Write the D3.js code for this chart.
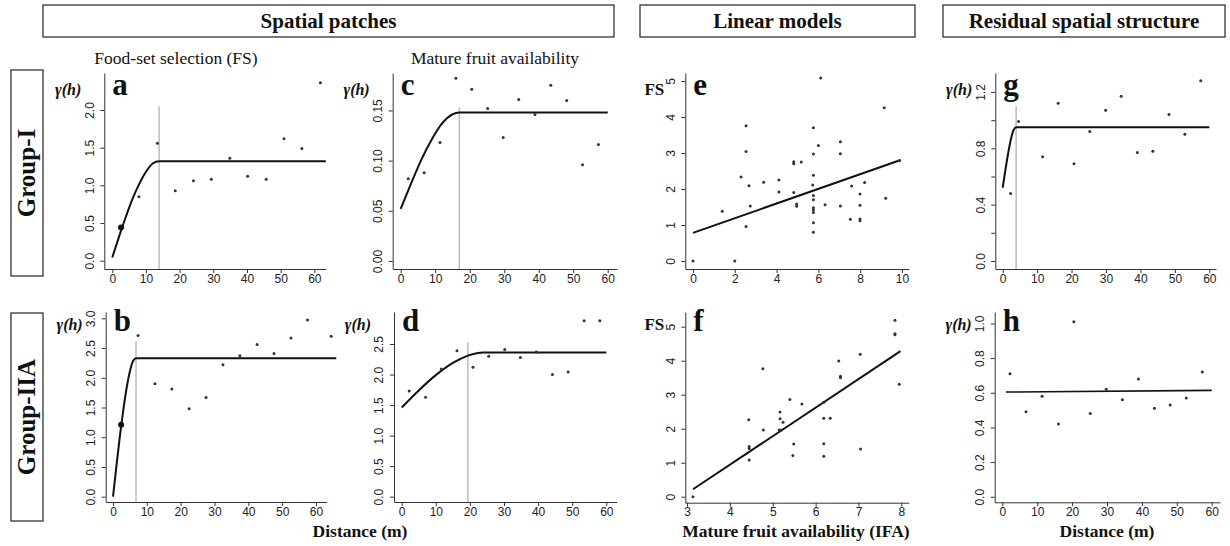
<!DOCTYPE html>
<html>
<head>
<meta charset="UTF-8" />
<title>Variograms and linear models</title>
<script src="https://d3js.org/d3.v7.min.js"></script>
<style>
  body { margin: 0; background: #fff; }
  .tick text { font-family: "Liberation Sans", Arial, sans-serif; font-size: 12px; fill: #222; }
  .axis path, .axis line { stroke: #333; stroke-width: 1; }
  .serif { font-family: "Liberation Serif", "Times New Roman", serif; fill: #111; }
</style>
</head>
<body>
<svg id="chart" width="1230" height="546"></svg>
<script>
// ---- data ----
// panel a : FS variogram, Group-I  [distance, gamma]
var aPoints = [[7.9,0.85],[13.4,1.56],[18.7,0.93],[24.1,1.06],[29.4,1.08],[34.9,1.36],[40.2,1.12],[45.7,1.08],[51.0,1.62],[56.3,1.49],[61.8,2.36]];
var aFirst = [[2.6,0.44]];
var aModel = [[0,0.045],[2,0.32],[4,0.58],[6,0.82],[8,1.02],[10,1.18],[12,1.29],[13.9,1.32],[63.4,1.32]];
var aRange = [13.9, 2.05];

// panel b : FS variogram, Group-IIA
var bPoints = [[7.4,2.71],[12.4,1.90],[17.4,1.81],[22.5,1.48],[27.5,1.67],[32.5,2.22],[37.5,2.37],[42.6,2.56],[47.6,2.41],[52.6,2.67],[57.5,2.97],[64.5,2.70]];
var bFirst = [[2.4,1.21]];
var bModel = [[0,0],[1,0.51],[2,1.0],[3,1.44],[4,1.82],[5,2.11],[6,2.29],[6.8,2.33],[66,2.33]];
var bRange = [6.8, 2.61];

// panel c : mature fruit variogram, Group-I
var cPoints = [[2.2,0.082],[6.8,0.088],[11.4,0.118],[16.0,0.182],[20.6,0.171],[25.2,0.152],[29.7,0.123],[34.2,0.161],[38.9,0.146],[43.5,0.175],[48.1,0.160],[52.7,0.096],[57.3,0.116]];
var cModel = [[0,0.052],[3,0.077],[6,0.101],[9,0.121],[12,0.137],[15,0.146],[17,0.148],[60,0.148]];
var cRange = [17.0, 0.153];

// panel d : mature fruit variogram, Group-IIA
var dPoints = [[2.2,1.73],[7.0,1.63],[11.6,2.09],[16.2,2.39],[20.9,2.12],[25.5,2.30],[30.2,2.41],[34.8,2.28],[39.5,2.37],[44.2,2.00],[48.8,2.04],[53.5,2.88],[58.1,2.88]];
var dModel = [[0,1.46],[5,1.74],[10,1.99],[15,2.19],[19.4,2.31],[22,2.35],[24,2.36],[60,2.36]];
var dRange = [19.4, 2.53];

// panel e : FS ~ IFA, Group-I  [IFA, FS]
var ePoints = [[0,0],[2.0,0],[1.4,1.38],[2.3,2.33],[2.54,3.76],[2.54,3.04],[2.54,0.96],[2.68,2.09],[2.74,1.53],[3.38,2.19],[4.11,2.25],[4.11,1.92],[4.82,1.90],[4.82,2.76],[4.82,2.70],[5.18,2.75],[4.96,1.58],[4.96,1.52],[5.76,3.70],[5.76,2.97],[5.76,2.38],[5.73,2.11],[5.76,1.82],[5.76,1.70],[5.76,1.48],[5.76,1.42],[5.76,1.35],[5.76,1.06],[5.76,0.80],[6.0,3.21],[6.11,5.08],[6.32,1.56],[7.05,3.31],[7.05,2.98],[7.05,1.53],[7.53,1.16],[7.59,2.08],[7.99,1.86],[7.99,1.55],[7.99,1.17],[7.99,1.12],[8.21,2.18],[9.15,4.26],[9.22,1.74],[9.89,2.79]];
var eFit = [[0,0.78],[9.9,2.80]];

// panel f : FS ~ IFA, Group-IIA
var fPoints = [[3.14,0],[4.44,2.26],[4.45,1.48],[4.45,1.42],[4.45,1.08],[4.77,3.76],[4.78,1.96],[5.17,2.49],[5.17,2.29],[5.15,1.96],[5.2,1.96],[5.24,2.19],[5.40,2.86],[5.49,1.55],[5.47,1.21],[5.68,2.73],[6.19,2.78],[6.19,2.31],[6.34,2.31],[6.19,1.56],[6.19,1.19],[6.54,3.99],[6.58,3.54],[6.58,3.50],[7.04,4.19],[7.05,1.40],[7.85,5.19],[7.85,4.79],[7.85,4.76],[7.95,3.31]];
var fFit = [[3.14,0.22],[7.98,4.28]];

// panel g : residual variogram, Group-I
var gPoints = [[2.3,0.48],[4.6,0.99],[11.6,0.74],[16.1,1.12],[20.7,0.69],[25.3,0.92],[29.9,1.07],[34.4,1.17],[39.1,0.77],[43.6,0.78],[48.3,1.04],[52.9,0.90],[57.5,1.28]];
var gModel = [[0,0.52],[1,0.68],[2,0.82],[3,0.92],[3.9,0.95],[60,0.95]];
var gRange = [3.9, 1.10];

// panel h : residual variogram, Group-IIA
var hPoints = [[2.2,0.71],[6.8,0.49],[11.4,0.58],[16.1,0.42],[20.5,1.01],[25.2,0.48],[29.8,0.62],[34.4,0.56],[39.0,0.68],[43.6,0.51],[48.1,0.53],[52.7,0.57],[57.3,0.72]];
var hModel = [[1,0.604],[60,0.614]];

// tick values
var distTicks = [0,10,20,30,40,50,60];
var eXTicks = [0,2,4,6,8,10];
var fXTicks = [3,4,5,6,7,8];
var aYTicks = [0,0.5,1,1.5,2];
var bYTicks = [0,0.5,1,1.5,2,2.5,3];
var cYTicks = [0,0.05,0.10,0.15];
var dYTicks = [0,0.5,1,1.5,2,2.5];
var efYTicks = [0,1,2,3,4,5];
var gYTicks = [0,0.2,0.4,0.6,0.8,1.0,1.2];
var gYLabels = [0,0.4,0.8,1.2];
var hYTicks = [0,0.2,0.4,0.6,0.8,1.0];

var headers = ['Spatial patches','Linear models','Residual spatial structure'];
var subTitles = ['Food-set selection (FS)','Mature fruit availability'];
var rowLabels = ['Group-I','Group-IIA'];

// ---- layout ----
var svg = d3.select('#chart');

var panels = [
  {id:'a', rect:{l:104.3,r:325.7,t:73,b:269}, xd:[-2.38,63.38], yd:[-0.110,2.491], xt:distTicks, yt:aYTicks, yf:'.1f', yl:'γ(h)', pts:aPoints, big:aFirst, model:aModel, rng:aRange},
  {id:'b', rect:{l:105.7,r:326.7,t:312,b:502}, xd:[-2.16,63.17], yd:[-0.089,3.106], xt:distTicks, yt:bYTicks, yf:'.1f', yl:'γ(h)', pts:bPoints, big:bFirst, model:bModel, rng:bRange},
  {id:'c', rect:{l:392.7,r:616.7,t:73,b:269}, xd:[-2.31,62.6], yd:[-0.008,0.1873], xt:distTicks, yt:cYTicks, yf:'.2f', yl:'γ(h)', pts:cPoints, model:cModel, rng:cRange},
  {id:'d', rect:{l:394,r:616.7,t:312,b:502}, xd:[-2.26,63.05], yd:[-0.087,3.024], xt:distTicks, yt:dYTicks, yf:'.1f', yl:'γ(h)', pts:dPoints, model:dModel, rng:dRange},
  {id:'e', rect:{l:685.3,r:908.7,t:73,b:269}, xd:[-0.368,10.32], yd:[-0.222,5.222], xt:eXTicks, yt:efYTicks, yf:'d', yl:'FS', pts:ePoints, fit:eFit},
  {id:'f', rect:{l:685.3,r:908.7,t:312,b:502.7}, xd:[2.96,8.171], yd:[-0.176,5.432], xt:fXTicks, yt:efYTicks, yf:'d', yl:'FS', pts:fPoints, fit:fFit},
  {id:'g', rect:{l:995.3,r:1216,t:73,b:269}, xd:[-2.15,61.94], yd:[-0.057,1.335], xt:distTicks, yt:gYTicks, yf:'.1f', ylab:gYLabels, yl:'γ(h)', pts:gPoints, model:gModel, rng:gRange},
  {id:'h', rect:{l:994.7,r:1220,t:312,b:502.3}, xd:[-2.18,62.38], yd:[-0.032,1.066], xt:distTicks, yt:hYTicks, yf:'.1f', yl:'γ(h)', pts:hPoints, fit:hModel, fitWidth:1.6}
];

panels.forEach(function (p) {
  var R = p.rect;
  var x = d3.scaleLinear().domain(p.xd).range([R.l, R.r]);
  var y = d3.scaleLinear().domain(p.yd).range([R.b, R.t]);
  var g = svg.append('g').attr('id', 'panel-' + p.id);
  var top = R.t < 200;

  // x axis
  g.append('g').attr('class', 'axis')
    .attr('transform', 'translate(0,' + R.b + ')')
    .call(d3.axisBottom(x).tickValues(p.xt).tickSize(4).tickSizeOuter(0).tickPadding(1).tickFormat(d3.format('d')));

  // y axis, labels rotated like R
  var fmt = d3.format(p.yf);
  var yAxis = g.append('g').attr('class', 'axis')
    .attr('transform', 'translate(' + R.l + ',0)')
    .call(d3.axisLeft(y).tickValues(p.yt).tickSize(4).tickSizeOuter(0).tickFormat(function (d) {
      if (p.ylab && !p.ylab.some(function (v) { return Math.abs(v - d) < 1e-9; })) return '';
      return fmt(d);
    }));
  yAxis.selectAll('.tick text')
    .attr('x', 0).attr('dy', 0).attr('y', -10.8)
    .attr('transform', 'rotate(-90)')
    .attr('text-anchor', 'middle');

  // range line
  if (p.rng) {
    g.append('line')
      .attr('x1', x(p.rng[0])).attr('x2', x(p.rng[0]))
      .attr('y1', R.b).attr('y2', y(p.rng[1]))
      .attr('stroke', '#bdbdbd').attr('stroke-width', 1.5);
  }

  // fitted curve / line
  var line = d3.line().x(function (d) { return x(d[0]); }).y(function (d) { return y(d[1]); });
  if (p.model) {
    g.append('path').datum(p.model)
      .attr('d', line.curve(d3.curveMonotoneX))
      .attr('fill', 'none').attr('stroke', '#111').attr('stroke-width', 2);
  }
  if (p.fit) {
    g.append('path').datum(p.fit)
      .attr('d', d3.line().x(function (d) { return x(d[0]); }).y(function (d) { return y(d[1]); }))
      .attr('fill', 'none').attr('stroke', '#111').attr('stroke-width', p.fitWidth || 2);
  }

  // points
  g.selectAll('circle.pt').data(p.pts).enter().append('circle')
    .attr('class', 'pt')
    .attr('cx', function (d) { return x(d[0]); })
    .attr('cy', function (d) { return y(d[1]); })
    .attr('r', 1.5).attr('fill', '#333');
  if (p.big) {
    g.selectAll('circle.big').data(p.big).enter().append('circle')
      .attr('class', 'big')
      .attr('cx', function (d) { return x(d[0]); })
      .attr('cy', function (d) { return y(d[1]); })
      .attr('r', 3).attr('fill', '#111');
  }

  // panel letter
  g.append('text').attr('class', 'serif')
    .attr('x', R.l + 8).attr('y', top ? 95 : 331)
    .attr('font-size', 31).attr('font-weight', 'bold')
    .text(p.id);

  // y label
  var isFS = p.yl === 'FS';
  g.append('text').attr('class', 'serif')
    .attr('x', R.l - (isFS ? 21 : 23)).attr('y', top ? 95 : 330)
    .attr('text-anchor', 'end')
    .attr('font-size', isFS ? 17 : 16).attr('font-weight', 'bold')
    .attr('font-style', isFS ? 'normal' : 'italic')
    .text(p.yl);
});

// header boxes
var headerBoxes = [[43,614],[640,915],[943,1225]];
headers.forEach(function (t, i) {
  var b = headerBoxes[i];
  svg.append('rect').attr('x', b[0]).attr('y', 5).attr('width', b[1] - b[0]).attr('height', 32)
    .attr('fill', 'none').attr('stroke', '#333').attr('stroke-width', 1.3);
  svg.append('text').attr('class', 'serif')
    .attr('x', (b[0] + b[1]) / 2).attr('y', 28)
    .attr('text-anchor', 'middle').attr('font-size', 21).attr('font-weight', 'bold')
    .text(t);
});

// column subtitles
var subX = [176, 495];
subTitles.forEach(function (t, i) {
  svg.append('text').attr('class', 'serif')
    .attr('x', subX[i]).attr('y', 64)
    .attr('text-anchor', 'middle').attr('font-size', 17.5)
    .text(t);
});

// row label boxes
var rowBoxes = [[70,276],[313,521]];
rowLabels.forEach(function (t, i) {
  var b = rowBoxes[i];
  svg.append('rect').attr('x', 11).attr('y', b[0]).attr('width', 32).attr('height', b[1] - b[0])
    .attr('fill', 'none').attr('stroke', '#333').attr('stroke-width', 1.3);
  svg.append('text').attr('class', 'serif')
    .attr('transform', 'translate(35,' + ((b[0] + b[1]) / 2) + ') rotate(-90)')
    .attr('text-anchor', 'middle').attr('font-size', 25).attr('font-weight', 'bold')
    .text(t);
});

// axis titles
var axisTitles = [['Distance (m)', 360], ['Mature fruit availability (IFA)', 796], ['Distance (m)', 1107]];
axisTitles.forEach(function (t) {
  svg.append('text').attr('class', 'serif')
    .attr('x', t[1]).attr('y', 537)
    .attr('text-anchor', 'middle').attr('font-size', 17.5).attr('font-weight', 'bold')
    .text(t[0]);
});
</script>
</body>
</html>
